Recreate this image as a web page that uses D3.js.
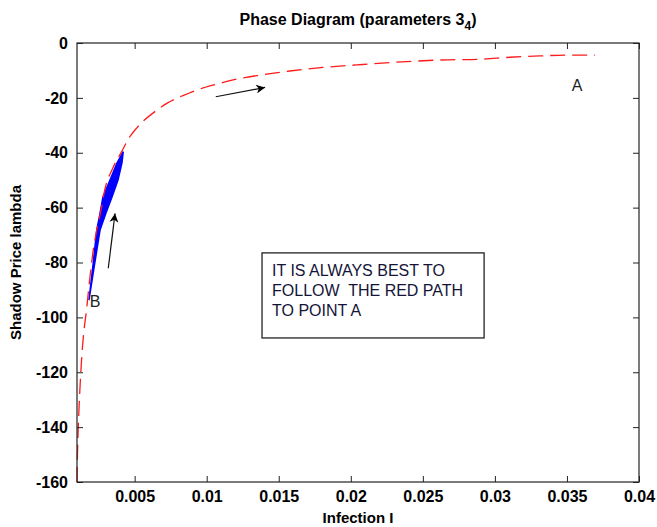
<!DOCTYPE html>
<html><head><meta charset="utf-8">
<script src="https://cdn.jsdelivr.net/npm/d3@7"></script>
<style>
body{margin:0;background:#fff;}
text{font-family:"Liberation Sans",Arial,sans-serif;}
</style></head>
<body><svg id="c" width="657" height="527"></svg>
<script>
// red path (infection I, shadow price lambda)
const redI = [0.001,0.00102,0.00109,0.00121,0.00133,0.00151,0.00162,0.0019,0.00213,0.00237,0.00271,0.00283,0.00352,0.0041,0.00461,0.00514,0.00664,0.00723,0.00872,0.0094,0.01092,0.01162,0.013,0.01578,0.01807,0.02041,0.02319,0.02619,0.02897,0.03105,0.03313,0.03521,0.03695];
const redL = [-160,-153.1,-140,-125.4,-114.4,-103.5,-99.1,-85.3,-75.4,-68.2,-59.8,-56.0,-45.2,-39.6,-34.6,-31.0,-24.1,-22.0,-18.4,-17.0,-14.7,-13.7,-12.3,-10.2,-8.9,-8.0,-7.0,-6.2,-5.9,-5.2,-4.7,-4.4,-4.4];
// blue oscillating band: upper and lower edges
const blueUpperI = [0.00183,0.00211,0.00237,0.0026,0.0028,0.00329,0.00378,0.00421];
const blueUpperL = [-93.7,-80.9,-68.2,-62.0,-56.1,-49.9,-43.7,-39.6];
const blueLowerI = [0.00183,0.00218,0.0026,0.00301,0.00343,0.00385,0.00412,0.00421];
const blueLowerL = [-93.7,-82.0,-68.2,-62.0,-56.1,-49.9,-43.7,-39.6];
// axis ticks
const xTicks = [0.005,0.01,0.015,0.02,0.025,0.03,0.035,0.04];
const xTickLabels = ["0.005","0.01","0.015","0.02","0.025","0.03","0.035","0.04"];
const yTicks = [0,-20,-40,-60,-80,-100,-120,-140,-160];
const yTickLabels = ["0","-20","-40","-60","-80","-100","-120","-140","-160"];
// annotations
const arrowFromI = [0.01063,0.00317], arrowFromL = [-19.6,-82.1];
const arrowToI = [0.01405,0.00364], arrowToL = [-16.2,-62.1];
const pointLabels = ["A","B"], pointI = [0.0357,0.00225], pointL = [-15.3,-94.0];
const noteLines = ["IT IS ALWAYS BEST TO","FOLLOW  THE RED PATH","TO POINT A"];
const noteBoxI = [0.01384,0.02925], noteBoxL = [-76.5,-107.5];

const svg = d3.select("#c");
const L=77,R=639,T=43,B=482;
const x = d3.scaleLinear().domain([0.001,0.04]).range([L,R]);
const y = d3.scaleLinear().domain([-160,0]).range([B,T]);

// title
const title = svg.append("text").attr("x",(L+R)/2).attr("y",25).attr("text-anchor","middle")
  .style("font-weight","bold").style("font-size","16px");
title.append("tspan").text("Phase Diagram (parameters 3");
title.append("tspan").attr("dy",5).style("font-size","12px").text("4");
title.append("tspan").attr("dy",-5).text(")");

// data
const redData = redI.map((v,i)=>[v,redL[i]]);
const line = d3.line().x(d=>x(d[0])).y(d=>y(d[1]));
const bandPts = blueUpperI.map((v,i)=>[v,blueUpperL[i]])
  .concat(blueLowerI.map((v,i)=>[v,blueLowerL[i]]).reverse());
svg.append("path").attr("d",line(bandPts)+"Z").attr("fill","#0000ff").attr("stroke","#0000ff").attr("stroke-width",1.5);
svg.append("path").attr("d",line.curve(d3.curveMonotoneX)(redData)).attr("fill","none").attr("stroke","#ff1a1a")
  .attr("stroke-width",1.3).attr("stroke-dasharray","15,7");

// axes
const fmtX = d=>xTickLabels[xTicks.indexOf(d)];
const fmtY = d=>yTickLabels[yTicks.indexOf(d)];
const gx = svg.append("g").attr("transform",`translate(0,${B})`)
  .call(d3.axisBottom(x).tickValues(xTicks).tickFormat(fmtX).tickSizeInner(-6).tickSizeOuter(0).tickPadding(9));
const gxt = svg.append("g").attr("transform",`translate(0,${T})`)
  .call(d3.axisTop(x).tickValues(xTicks).tickFormat("").tickSizeInner(-6).tickSizeOuter(0));
const gy = svg.append("g").attr("transform",`translate(${L},0)`)
  .call(d3.axisLeft(y).tickValues(yTicks).tickFormat(fmtY).tickSizeInner(-6).tickSizeOuter(0).tickPadding(9));
const gyr = svg.append("g").attr("transform",`translate(${R},0)`)
  .call(d3.axisRight(y).tickValues(yTicks).tickFormat("").tickSizeInner(-6).tickSizeOuter(0));
[gx,gxt,gy,gyr].forEach(g=>{g.select(".domain").remove();g.selectAll("line").attr("stroke","#222");
  g.selectAll("text").style("font-weight","bold").style("font-size","16px").attr("fill","#000");});
gx.selectAll("text").attr("dy","0.71em");
svg.append("rect").attr("x",L).attr("y",T).attr("width",R-L).attr("height",B-T)
  .attr("fill","none").attr("stroke","#222").attr("stroke-width",1.2);

// axis labels
svg.append("text").attr("x",(L+R)/2).attr("y",523).attr("text-anchor","middle")
  .style("font-weight","bold").style("font-size","15px").text("Infection I");
svg.append("text").attr("transform",`translate(21,${(T+B)/2}) rotate(-90)`).attr("text-anchor","middle")
  .style("font-weight","bold").style("font-size","15px").text("Shadow Price lambda");

// arrows
svg.append("defs").append("marker").attr("id","ah").attr("viewBox","0 0 10 10").attr("refX",10).attr("refY",5)
  .attr("markerWidth",13).attr("markerHeight",9).attr("markerUnits","userSpaceOnUse").attr("orient","auto")
  .append("path").attr("d","M0,0 L10,5 L0,10 L3,5 Z").attr("fill","#000");
arrowFromI.forEach((v,i)=>{
  svg.append("line").attr("x1",x(v)).attr("y1",y(arrowFromL[i])).attr("x2",x(arrowToI[i])).attr("y2",y(arrowToL[i]))
    .attr("stroke","#111").attr("stroke-width",1.2).attr("marker-end","url(#ah)");
});

// point labels
pointLabels.forEach((t,i)=>{
  svg.append("text").attr("x",x(pointI[i])).attr("y",y(pointL[i])).attr("text-anchor","middle").attr("dy","0.36em")
    .style("font-size","16px").attr("fill","#222").text(t);
});

// note box
svg.append("rect").attr("x",x(noteBoxI[0])).attr("y",y(noteBoxL[0]))
  .attr("width",x(noteBoxI[1])-x(noteBoxI[0])).attr("height",y(noteBoxL[1])-y(noteBoxL[0]))
  .attr("fill","none").attr("stroke","#222").attr("stroke-width",1.3);
noteLines.forEach((t,i)=>{
  svg.append("text").attr("x",x(noteBoxI[0])+10).attr("y",y(noteBoxL[0])+23+i*20)
    .style("font-size","16px").attr("fill","#141438").style("white-space","pre").text(t);
});
</script></body></html>
